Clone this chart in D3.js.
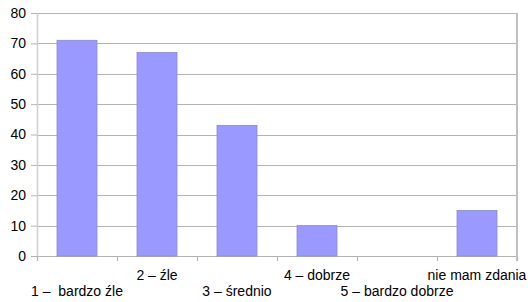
<!DOCTYPE html>
<html>
<head>
<meta charset="utf-8">
<script src="https://cdn.jsdelivr.net/npm/d3@7"></script>
<style>
  body { margin: 0; background: #fff; }
  text { font-family: "Liberation Sans", Arial, sans-serif; font-size: 14px; fill: #000; }
</style>
</head>
<body>
<div id="chart"></div>
<script>
// chart data
var categories = ["1 –  bardzo źle", "2 – źle", "3 – średnio", "4 – dobrze", "5 – bardzo dobrze", "nie mam zdania"];
var values = [71, 67, 43, 10, 0, 15];
var yTicks = [0, 10, 20, 30, 40, 50, 60, 70, 80];

var svgWidth = 530;
var svgHeight = 302;
var margin = { top: 13, right: 13, bottom: 46, left: 37 };
var width = svgWidth - margin.left - margin.right;
var height = svgHeight - margin.top - margin.bottom;

var svg = d3.select("#chart")
    .append("svg")
    .attr("width", svgWidth)
    .attr("height", svgHeight);

var chartGroup = svg.append("g")
    .attr("transform", `translate(${margin.left}, ${margin.top})`);

var xScale = d3.scaleBand()
    .domain(categories)
    .range([0, width])
    .paddingInner(0.5)
    .paddingOuter(0.25);

var yScale = d3.scaleLinear()
    .domain([0, 80])
    .range([height, 0]);

// horizontal grid lines
chartGroup.selectAll(".grid")
    .data(yTicks)
    .enter()
    .append("line")
    .attr("x1", 0)
    .attr("x2", width)
    .attr("y1", d => Math.round(yScale(d)) + 0.5)
    .attr("y2", d => Math.round(yScale(d)) + 0.5)
    .attr("stroke", "#b3b3b3")
    .attr("stroke-width", 1);

// left axis line
chartGroup.append("line")
    .attr("x1", 0.5).attr("x2", 0.5)
    .attr("y1", 0).attr("y2", height + 5)
    .attr("stroke", "#cfcfcf")
    .attr("stroke-width", 1.5);

// right border
chartGroup.append("line")
    .attr("x1", width).attr("x2", width)
    .attr("y1", 0).attr("y2", height + 5)
    .attr("stroke", "#c0c0c0")
    .attr("stroke-width", 2);

// y axis
var leftAxis = d3.axisLeft(yScale)
    .tickValues(yTicks)
    .tickSize(6)
    .tickPadding(5);

var yAxisGroup = chartGroup.append("g").call(leftAxis);
yAxisGroup.select(".domain").remove();
yAxisGroup.selectAll(".tick line").attr("stroke", "#b3b3b3");
yAxisGroup.selectAll(".tick text")
    .style("font-size", "14px")
    .style("font-family", "Liberation Sans, Arial, sans-serif");

// category tick marks at band boundaries
var boundaries = d3.range(categories.length + 1).map(i => i * width / categories.length);
chartGroup.selectAll(".xtick")
    .data(boundaries)
    .enter()
    .append("line")
    .attr("x1", d => Math.round(d) + 0.5)
    .attr("x2", d => Math.round(d) + 0.5)
    .attr("y1", height)
    .attr("y2", height + 5)
    .attr("stroke", "#b3b3b3");

// bars
chartGroup.selectAll(".bar")
    .data(values)
    .enter()
    .append("rect")
    .attr("x", (d, i) => xScale(categories[i]))
    .attr("y", d => yScale(d))
    .attr("width", xScale.bandwidth())
    .attr("height", d => height - yScale(d))
    .attr("fill", "#9999ff")
    .attr("stroke", d => d > 0 ? "#8a8ad0" : "none")
    .attr("stroke-width", 0.8);

// category labels, staggered on two rows
chartGroup.selectAll(".xlabel")
    .data(categories)
    .enter()
    .append("text")
    .attr("x", d => xScale(d) + xScale.bandwidth() / 2)
    .attr("y", (d, i) => i % 2 === 0 ? height + 40 : height + 24)
    .attr("text-anchor", "middle")
    .style("white-space", "pre")
    .attr("xml:space", "preserve")
    .text(d => d);
</script>
</body>
</html>
